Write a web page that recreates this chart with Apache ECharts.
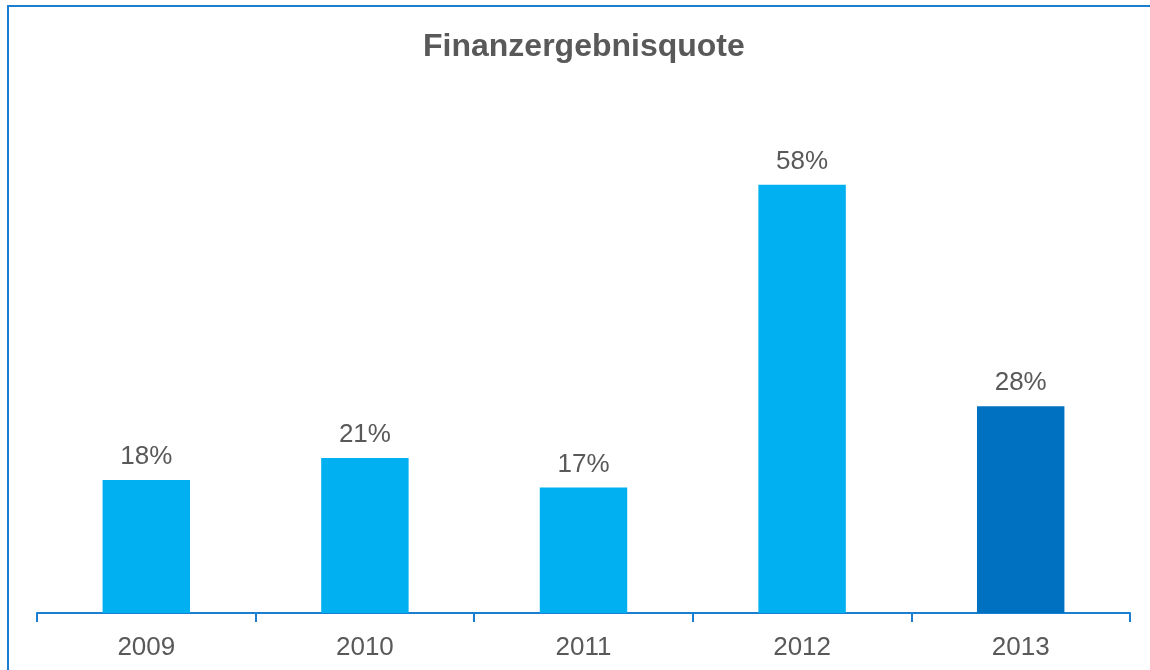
<!DOCTYPE html>
<html>
<head>
<meta charset="utf-8">
<script src="https://cdn.jsdelivr.net/npm/echarts@6/dist/echarts.min.js"></script>
<style>
html,body{margin:0;padding:0;background:#fff;}
#initTable{width:1150px;height:670px;}
</style>
</head>
<body>
<div id="initTable"></div>
<script>
// Daten ------------------
var years = ['2009', '2010', '2011', '2012', '2013'];
var quote = [18, 21, 17, 58, 28];
var barColors = ['#00B0F0', '#00B0F0', '#00B0F0', '#00B0F0', '#0070C0'];

var myChart = echarts.init(document.getElementById('initTable'));

var option = {
    animation: false,
    textStyle: {fontFamily: 'Liberation Sans, Arial, sans-serif'},
    title: {
        text: 'Finanzergebnisquote',
        left: 423,
        top: 31,
        padding: 0,
        textStyle: {fontSize: 32, fontWeight: 'bold', color: '#595959', fontFamily: 'Liberation Sans, Arial, sans-serif'}
    },
    graphic: [{
        type: 'rect',
        shape: {x: 8, y: 6, width: 1200, height: 700},
        style: {fill: 'none', stroke: '#1a7fd0', lineWidth: 2},
        silent: true
    }],
    grid: {left: 37, right: 20, top: 170, bottom: 57, containLabel: false},
    xAxis: {
        type: 'category',
        data: years,
        axisLine: {lineStyle: {color: '#1a7fd0', width: 2}},
        axisTick: {show: true, length: 9, lineStyle: {color: '#1a7fd0', width: 2}},
        axisLabel: {fontSize: 26, color: '#595959', margin: 22}
    },
    yAxis: {
        type: 'value',
        min: 0,
        max: 60,
        show: false,
        splitLine: {show: false}
    },
    series: [{
        name: 'Finanzergebnisquote',
        type: 'bar',
        barWidth: '40%',
        data: quote.map(function (v, i) {
            return {value: v, itemStyle: {color: barColors[i]}};
        }),
        label: {
            show: true,
            position: 'top',
            distance: 10,
            fontSize: 26,
            color: '#595959',
            formatter: '{c}%'
        }
    }]
};
myChart.setOption(option);
</script>
</body>
</html>
